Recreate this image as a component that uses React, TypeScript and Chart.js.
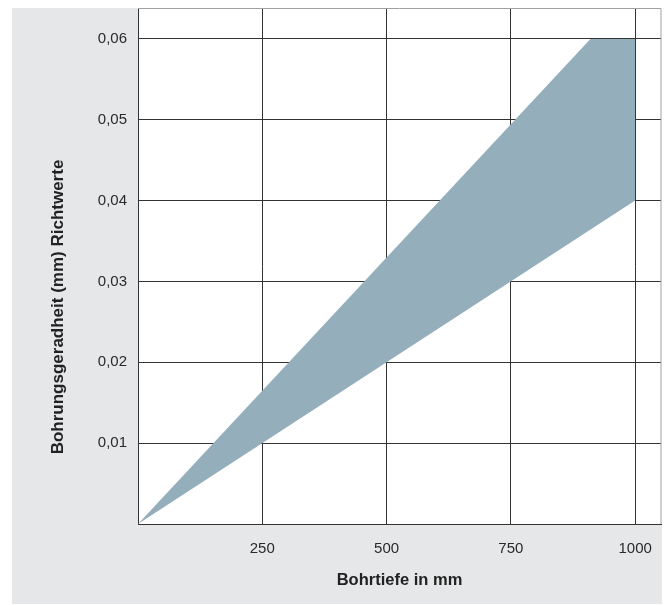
import React, { useEffect, useRef } from 'react';
import { Chart, registerables } from 'chart.js';

Chart.register(...registerables);

// ---- data ----
const xTickValues = [0, 250, 500, 750, 1000];
const yTickValues = [0, 0.01, 0.02, 0.03, 0.04, 0.05, 0.06];
const upperX = [0, 910, 1000];
const upperY = [0, 0.06, 0.06];
const lowerX = [0, 1000];
const lowerY = [0, 0.04];
const xTitle = 'Bohrtiefe in mm';
const yTitle = 'Bohrungsgeradheit (mm) Richtwerte';

const FONT = "'Liberation Sans', Arial, Helvetica, sans-serif";
const FILL = '#95aebb';
const GRID = '#333333';

const bgPlugin = {
  id: 'bgPlugin',
  beforeDraw(chart: any) {
    const { ctx, chartArea } = chart;
    ctx.save();
    ctx.fillStyle = '#ffffff';
    ctx.fillRect(chartArea.left, chartArea.top - 1, chartArea.right - chartArea.left + 1, chartArea.bottom - chartArea.top + 1);
    ctx.restore();
  },
  afterDraw(chart: any) {
    const { ctx, chartArea } = chart;
    ctx.save();
    ctx.strokeStyle = '#a0a0a0';
    ctx.lineWidth = 1;
    ctx.beginPath();
    ctx.moveTo(chartArea.left, chartArea.top - 0.5);
    ctx.lineTo(chartArea.right, chartArea.top - 0.5);
    ctx.lineTo(chartArea.right, chartArea.bottom);
    ctx.stroke();
    // y axis title
    ctx.translate(46, 299);
    ctx.rotate(-Math.PI / 2);
    ctx.fillStyle = '#222222';
    ctx.font = `bold 17px ${FONT}`;
    ctx.textAlign = 'center';
    ctx.textBaseline = 'middle';
    ctx.fillText(yTitle, 0, 0);
    ctx.restore();
  },
};

export default function App() {
  const ref = useRef<HTMLCanvasElement | null>(null);

  useEffect(() => {
    if (!ref.current) return;
    const upper = upperX.map((x, i) => ({ x, y: upperY[i] }));
    const lower = lowerX.map((x, i) => ({ x, y: lowerY[i] }));
    const chart = new Chart(ref.current, {
      type: 'scatter',
      data: {
        datasets: [
          {
            data: lower,
            showLine: true,
            fill: false,
            borderWidth: 0,
            borderColor: 'transparent',
            pointRadius: 0,
          },
          {
            data: upper,
            showLine: true,
            fill: '-1',
            backgroundColor: FILL,
            borderWidth: 0,
            borderColor: 'transparent',
            pointRadius: 0,
          },
        ],
      },
      options: {
        animation: false,
        responsive: false,
        layout: { padding: { top: 1, right: 1, left: 0, bottom: 0 } },
        plugins: {
          legend: { display: false },
          tooltip: { enabled: false },
        },
        scales: {
          x: {
            type: 'linear',
            min: 0,
            max: 1052,
            z: 1,
            afterBuildTicks: (scale: any) => {
              scale.ticks = xTickValues.map((v) => ({ value: v }));
            },
            afterFit: (scale: any) => {
              scale.height = 80;
              scale.paddingLeft = 0;
              scale.paddingRight = 0;
              scale.paddingTop = 0;
              scale.paddingBottom = 0;
            },
            grid: { color: GRID, lineWidth: 1, drawTicks: false },
            border: { display: true, color: GRID, width: 1 },
            ticks: {
              padding: 16,
              maxRotation: 0,
              autoSkip: false,
              color: '#2a2a2a',
              font: { family: FONT, size: 15 },
              callback: (v: any) => (v === 0 ? '' : String(v)),
            },
            title: {
              display: true,
              text: xTitle,
              color: '#222222',
              font: { family: FONT, size: 16.5, weight: 'bold' },
              padding: { top: 0, bottom: 14 },
            },
          },
          y: {
            type: 'linear',
            min: 0,
            max: 0.0637,
            z: 1,
            afterBuildTicks: (scale: any) => {
              scale.ticks = yTickValues.map((v) => ({ value: v }));
            },
            afterFit: (scale: any) => {
              scale.width = 126;
              scale.paddingLeft = 0;
              scale.paddingRight = 0;
              scale.paddingTop = 0;
              scale.paddingBottom = 0;
            },
            grid: { color: GRID, lineWidth: 1, drawTicks: false },
            border: { display: true, color: GRID, width: 1 },
            ticks: {
              padding: 11,
              autoSkip: false,
              color: '#2a2a2a',
              font: { family: FONT, size: 15 },
              callback: (v: any) => (v === 0 ? '' : Number(v).toFixed(2).replace('.', ',')),
            },
          },
        },
      },
      plugins: [bgPlugin],
    } as any);
    return () => chart.destroy();
  }, []);

  return (
    <div style={{ marginLeft: 4, width: 650, height: 596, background: '#e6e7e9' }}>
      <canvas ref={ref} width={650} height={596} style={{ display: 'block' }} />
    </div>
  );
}
